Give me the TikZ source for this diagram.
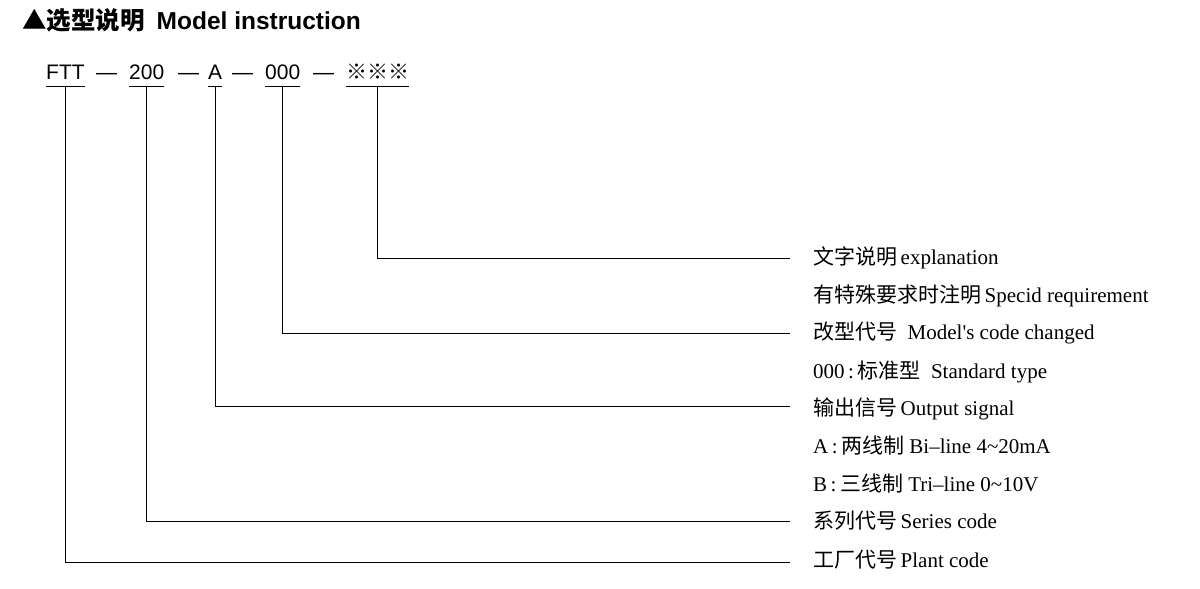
\documentclass[tikz,border=0pt]{standalone}
\usepackage{fontspec}
\setmainfont{Liberation Serif}
\setsansfont{Liberation Sans}
\newfontfamily\cjk{Noto Sans CJK SC}
\newcommand{\zh}[1]{{\cjk #1}}
\begin{document}
\begin{tikzpicture}[x=1pt,y=-1pt,
  codetxt/.style={font=\sffamily\fontsize{21}{21}\selectfont, inner sep=0pt, anchor=base west},
  lbl/.style={font=\fontsize{21}{21}\selectfont, inner sep=0pt, anchor=base west},
  ln/.style={line width=0.8pt, black}]
\useasboundingbox (0,0) rectangle (1200,589);
% title
\node[anchor=base west, inner sep=0pt, font=\fontsize{24.5}{24.5}\selectfont] (title) at (22,29)
  {{\cjk\bfseries ▲选型说明}\hspace{12pt}{\sffamily\bfseries Model instruction}};
% code line
\node[codetxt] (ftt) at (46,79) {FTT};
\node[codetxt] (d1) at (96,79) {—};
\node[codetxt] (s200) at (129,79) {200};
\node[codetxt] (d2) at (178,79) {—};
\node[codetxt] (sa) at (208,79) {A};
\node[codetxt] (d3) at (232,79) {—};
\node[codetxt] (s000) at (265,79) {000};
\node[codetxt] (d4) at (313,79) {—};
\node[codetxt] (sx) at (346,79) {\zh{※※※}};
\foreach \n in {ftt,s200,sa,s000,sx}
  \draw[ln] ([yshift=-7pt]\n.base west) -- ([yshift=-7pt]\n.base east);
% labels
\node[lbl] (lx) at (813,264) {\zh{文字说明}\,explanation};
\node[lbl] (lspec) at (813,302) {\zh{有特殊要求时注明}\,Specid requirement};
\node[lbl] (lmod) at (813,339) {\zh{改型代号}\ \ Model\textquotesingle s code changed};
\node[lbl] (lstd) at (813,378) {000\,:\,\zh{标准型}\ \ Standard type};
\node[lbl] (lout) at (813,415) {\zh{输出信号}\,Output signal};
\node[lbl] (lA) at (813,453) {A\,:\,\zh{两线制}\ Bi–line 4\textasciitilde 20mA};
\node[lbl] (lB) at (813,491) {B\,:\,\zh{三线制}\ Tri–line 0\textasciitilde 10V};
\node[lbl] (lser) at (813,528) {\zh{系列代号}\,Series code};
\node[lbl] (lplant) at (813,567) {\zh{工厂代号}\,Plant code};
% connectors
\draw[ln] ([yshift=-7pt]sx.base) |- ([xshift=-23pt,yshift=6pt]lx.base west);
\draw[ln] ([yshift=-7pt]s000.base) |- ([xshift=-23pt,yshift=6pt]lmod.base west);
\draw[ln] ([yshift=-7pt]sa.base) |- ([xshift=-23pt,yshift=9pt]lout.base west);
\draw[ln] ([yshift=-7pt]s200.base) |- ([xshift=-23pt,yshift=7pt]lser.base west);
\draw[ln] ([yshift=-7pt]ftt.base) |- ([xshift=-23pt,yshift=5pt]lplant.base west);
\end{tikzpicture}
\end{document}
